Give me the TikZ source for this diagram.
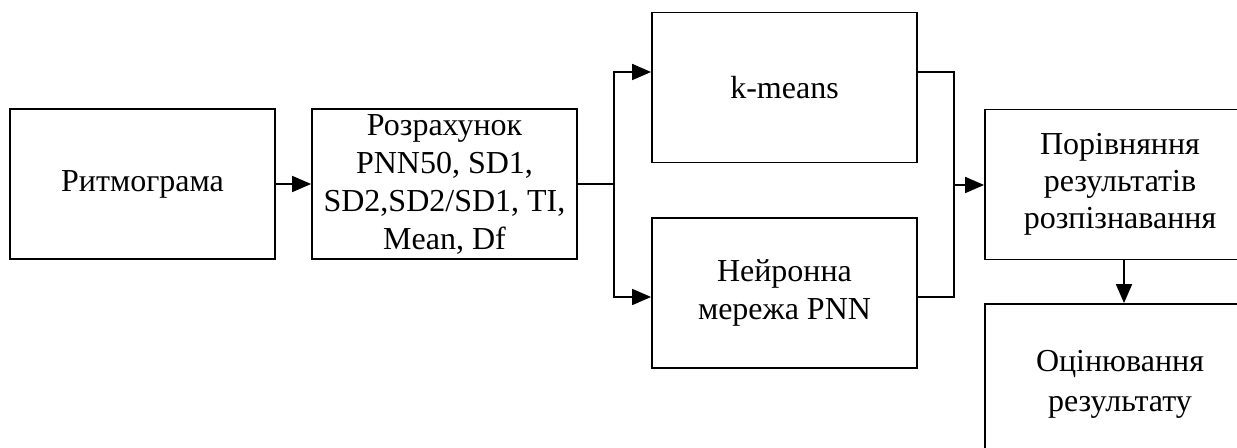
\documentclass[tikz,border=0pt]{standalone}
\usepackage{fontspec}
\setmainfont{Liberation Serif}
\usetikzlibrary{arrows.meta}
\begin{document}
\begin{tikzpicture}[x=0.5pt,y=-0.5pt,
  blk/.style={draw=black, line width=0.9pt, minimum width=132.5pt, minimum height=75pt,
    inner sep=0pt, align=center, font=\fontsize{16}{19}\selectfont},
  wideblk/.style={blk, minimum width=135pt},
  conn/.style={line width=0.9pt},
  arr/.style={conn, -{Triangle[length=9.5pt,width=8pt]}}]
\useasboundingbox (0,0) rectangle (1237,448);
\clip (0,0) rectangle (1237,448);
\node[blk] (rit) at (142.5,184) {Ритмограма};
\node[blk] (roz) at (444.5,184) {Розрахунок\\PNN50, SD1,\\SD2,SD2/SD1, TI,\\Mean, Df};
\node[blk] (km) at (784.5,87.5) {k-means};
\node[blk] (pnn) at (784.5,293) {Нейронна\\мережа PNN};
\node[wideblk, font=\fontsize{16}{18.5}\selectfont] (por) at (1120,184.5) {Порівняння\\результатів\\розпізнавання};
\node[wideblk, minimum height=80pt, font=\fontsize{16}{20}\selectfont] (oc) at (1120,384) {Оцінювання\\результату};
\coordinate (s1) at (614,184);
\coordinate (s2) at (954,185);
\coordinate (dn) at (1124,0);
\draw[arr] (rit) -- (roz);
\draw[conn] (roz.east) -- (s1);
\draw[arr] (s1) |- (km.west |- 0,72);
\draw[arr] (s1) |- (pnn.west |- 0,297);
\draw[conn] (km.east |- 0,72) -| (s2);
\draw[conn] (pnn.east |- 0,297) -| (s2);
\draw[arr] (s2) -- (por.west |- s2);
\draw[arr] (por.south -| dn) -- (oc.north -| dn);
\end{tikzpicture}
\end{document}
